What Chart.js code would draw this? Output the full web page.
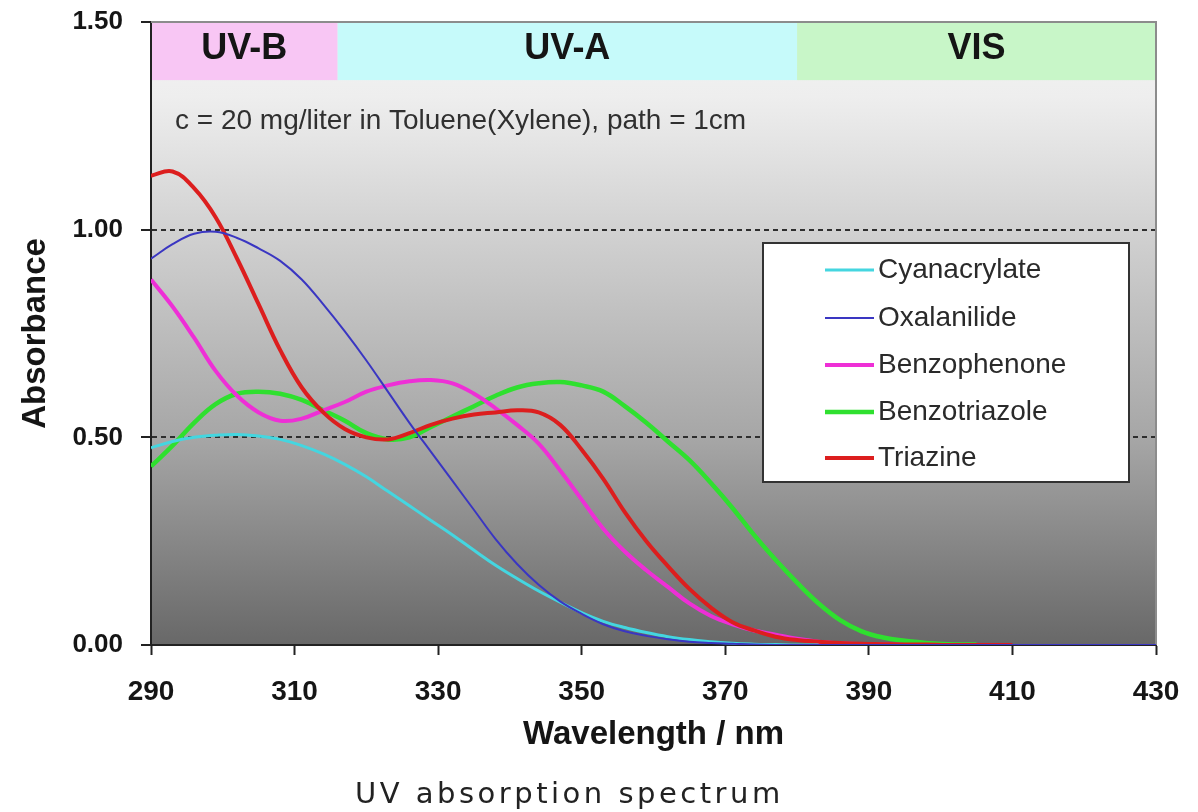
<!DOCTYPE html>
<html>
<head>
<meta charset="utf-8">
<title>UV absorption spectrum</title>
<script src="https://cdn.jsdelivr.net/npm/chart.js@4.4.0/dist/chart.umd.min.js"></script>
<style>
    html, body { margin: 0; padding: 0; background: #fff; }
    #wrap { position: relative; width: 1198px; height: 812px; }
</style>
</head>
<body>
<div id="wrap"><canvas id="uvChart"></canvas></div>
<script>
// Comprimentos de onda (nm) usados por todas as séries
const wavelengths = [290, 293, 296, 299, 302, 305, 308, 311, 314, 317, 320, 323, 326, 329, 332, 335, 338, 341, 344, 347,
    350, 353, 356, 359, 362, 365, 368, 371, 374, 377, 380, 383, 386, 389, 392, 395, 398, 401, 405, 410, 420, 430];

// Absorbância de cada filtro UV (null = série já terminou)
const cyanacrylate = [0.475, 0.49, 0.50, 0.505, 0.507, 0.503, 0.495, 0.48, 0.46, 0.435, 0.405, 0.37, 0.335, 0.30, 0.265, 0.228, 0.192, 0.16, 0.13, 0.103,
    0.078, 0.057, 0.042, 0.03, 0.02, 0.013, 0.008, 0.004, 0.002, 0.001, 0, 0, null, null, null, null, null, null, null, null, null, null];
const oxalanilide = [0.93, 0.965, 0.99, 0.995, 0.98, 0.955, 0.925, 0.88, 0.82, 0.755, 0.685, 0.61, 0.535, 0.465, 0.395, 0.325, 0.255, 0.195, 0.145, 0.105,
    0.075, 0.05, 0.033, 0.022, 0.014, 0.008, 0.005, 0.003, 0.001, 0, 0, 0, 0, 0, 0, 0, 0, 0, 0, 0, 0, 0];
const benzophenone = [0.88, 0.815, 0.74, 0.66, 0.60, 0.56, 0.54, 0.545, 0.565, 0.585, 0.61, 0.625, 0.635, 0.638, 0.63, 0.605, 0.57, 0.53, 0.485, 0.42,
    0.35, 0.28, 0.225, 0.18, 0.14, 0.10, 0.07, 0.05, 0.035, 0.025, 0.015, 0.008, 0.004, 0.002, 0.001, 0, null, null, null, null, null, null];
const benzotriazole = [0.43, 0.48, 0.535, 0.58, 0.605, 0.61, 0.605, 0.59, 0.565, 0.54, 0.51, 0.495, 0.50, 0.525, 0.55, 0.575, 0.60, 0.62, 0.63, 0.633,
    0.625, 0.61, 0.575, 0.535, 0.49, 0.445, 0.39, 0.33, 0.265, 0.205, 0.15, 0.10, 0.06, 0.033, 0.018, 0.01, 0.005, 0.002, 0.001, null, null, null];
const triazine = [1.13, 1.14, 1.10, 1.03, 0.93, 0.82, 0.71, 0.62, 0.56, 0.52, 0.50, 0.495, 0.51, 0.53, 0.545, 0.555, 0.56, 0.565, 0.56, 0.53,
    0.47, 0.40, 0.32, 0.25, 0.19, 0.135, 0.09, 0.055, 0.035, 0.02, 0.012, 0.008, 0.005, 0.003, 0.002, 0.001, 0.001, 0, 0, 0, null, null];

// Faixas do espectro no topo do gráfico
const bandNames = ['UV-B', 'UV-A', 'VIS'];
const bandEdges = [290, 316, 380, 430];
const bandColors = ['#f8c6f4', '#c6fafa', '#c8f6c8'];

// Marcas dos eixos
const xTicks = [290, 310, 330, 350, 370, 390, 410, 430];
const yTicks = [0, 0.5, 1.0, 1.5];

const FONT = 'Arial, "Liberation Sans", sans-serif';

/**
 * Converte uma lista de valores em pontos {x, y}, descartando os nulos.
 * @param {Array<number|null>} values Valores de absorbância.
 */
function toPoints(values) {
    return wavelengths
        .map((w, i) => ({ x: w, y: values[i] }))
        .filter(p => p.y !== null);
}

// Séries: cor e espessura de linha
const series = [
    { label: 'Cyanacrylate', data: cyanacrylate, color: '#44d6e0', width: 3, order: 1 },
    { label: 'Oxalanilide', data: oxalanilide, color: '#3a36c2', width: 2, order: 0 },
    { label: 'Benzophenone', data: benzophenone, color: '#ee2fd6', width: 4, order: 3 },
    { label: 'Benzotriazole', data: benzotriazole, color: '#2fe02f', width: 4.5, order: 4 },
    { label: 'Triazine', data: triazine, color: '#dc1e1e', width: 4, order: 2 }
];

// Plugin: fundo em degradê, faixas UV/VIS e texto de condição
const backgroundPlugin = {
    id: 'uvBackground',
    beforeDraw(chart) {
        const { ctx, chartArea: a, scales: { x, y } } = chart;
        ctx.save();
        const grad = ctx.createLinearGradient(0, a.top, 0, a.bottom);
        grad.addColorStop(0, '#f4f4f4');
        grad.addColorStop(0.12, '#eeeeee');
        grad.addColorStop(0.33, '#d2d2d2');
        grad.addColorStop(0.67, '#a6a6a6');
        grad.addColorStop(1, '#686868');
        ctx.fillStyle = grad;
        ctx.fillRect(a.left, a.top, a.right - a.left, a.bottom - a.top);

        // Faixas coloridas
        const bandTop = y.getPixelForValue(1.5);
        const bandBottom = y.getPixelForValue(1.36);
        bandNames.forEach((name, i) => {
            const x0 = x.getPixelForValue(bandEdges[i]);
            const x1 = x.getPixelForValue(bandEdges[i + 1]);
            ctx.fillStyle = bandColors[i];
            ctx.fillRect(x0, bandTop, x1 - x0, bandBottom - bandTop);
            ctx.fillStyle = '#151515';
            ctx.font = `bold 36px ${FONT}`;
            ctx.textAlign = 'center';
            ctx.textBaseline = 'middle';
            ctx.fillText(name, (x0 + x1) / 2, (bandTop + bandBottom) / 2 - 2);
        });

        // Condições da medição
        ctx.fillStyle = '#303030';
        ctx.font = `28px ${FONT}`;
        ctx.textAlign = 'left';
        ctx.textBaseline = 'middle';
        ctx.fillText('c = 20 mg/liter in Toluene(Xylene), path = 1cm', a.left + 24, y.getPixelForValue(1.26));
        ctx.restore();
    },
    beforeDatasetsDraw(chart) {
        // Borda cinza em cima e à direita da área do gráfico
        const { ctx, chartArea: a } = chart;
        ctx.save();
        ctx.strokeStyle = '#8c8c8c';
        ctx.lineWidth = 2;
        ctx.beginPath();
        ctx.moveTo(a.left, a.top);
        ctx.lineTo(a.right, a.top);
        ctx.lineTo(a.right, a.bottom);
        ctx.stroke();
        ctx.restore();
    }
};

// Plugin: legenda em caixa branca e legenda inferior
const legendPlugin = {
    id: 'uvLegend',
    afterDraw(chart) {
        const { ctx } = chart;
        ctx.save();
        const box = { left: 763, top: 243, right: 1129, bottom: 482 };
        ctx.fillStyle = '#ffffff';
        ctx.fillRect(box.left, box.top, box.right - box.left, box.bottom - box.top);
        ctx.strokeStyle = '#333';
        ctx.lineWidth = 2;
        ctx.strokeRect(box.left, box.top, box.right - box.left, box.bottom - box.top);

        const rowY = [270, 318, 365, 412, 458];
        series.forEach((s, i) => {
            ctx.strokeStyle = s.color;
            ctx.lineWidth = s.width;
            ctx.beginPath();
            ctx.moveTo(825, rowY[i]);
            ctx.lineTo(874, rowY[i]);
            ctx.stroke();
            ctx.fillStyle = '#2a2a2a';
            ctx.font = `28px ${FONT}`;
            ctx.textAlign = 'left';
            ctx.textBaseline = 'middle';
            ctx.fillText(s.label, 878, rowY[i]);
        });

        // Legenda da figura
        ctx.fillStyle = '#222';
        ctx.font = '29px "DejaVu Sans", sans-serif';
        ctx.letterSpacing = '3.5px';
        ctx.textAlign = 'left';
        ctx.textBaseline = 'alphabetic';
        ctx.fillText('UV absorption spectrum', 355, 803);
        ctx.restore();
    }
};

const ctx = document.getElementById('uvChart').getContext('2d');
new Chart(ctx, {
    type: 'line',
    data: {
        datasets: series.map(s => ({
            label: s.label,
            data: toPoints(s.data),
            borderColor: s.color,
            borderWidth: s.width,
            pointRadius: 0,
            fill: false,
            tension: 0.4,
            order: s.order
        }))
    },
    options: {
        responsive: true,
        maintainAspectRatio: false,
        animation: false,
        layout: { padding: { left: 0, right: 42, top: 22, bottom: 61 } },
        plugins: {
            legend: { display: false },
            tooltip: { enabled: false }
        },
        scales: {
            x: {
                type: 'linear',
                min: xTicks[0],
                max: xTicks[xTicks.length - 1],
                afterBuildTicks: scale => { scale.ticks = xTicks.map(v => ({ value: v })); },
                ticks: {
                    color: '#151515',
                    font: { family: FONT, size: 28, weight: 'bold' },
                    padding: 20,
                    maxRotation: 0,
                    autoSkip: false
                },
                grid: { drawOnChartArea: false, tickLength: 10, tickColor: '#222', tickWidth: 2 },
                border: { color: '#222', width: 2 },
                title: {
                    display: true,
                    text: 'Wavelength / nm',
                    color: '#151515',
                    font: { family: FONT, size: 33, weight: 'bold', lineHeight: 1 },
                    padding: { top: 0, bottom: 0 }
                },
                afterFit: scale => {
                    scale.height = 106;
                    scale.paddingLeft = 0;
                    scale.paddingRight = 0;
                }
            },
            y: {
                min: yTicks[0],
                max: yTicks[yTicks.length - 1],
                afterBuildTicks: scale => { scale.ticks = yTicks.map(v => ({ value: v })); },
                ticks: {
                    color: '#151515',
                    font: { family: FONT, size: 26, weight: 'bold' },
                    padding: 18,
                    callback: value => value.toFixed(2)
                },
                grid: {
                    color: c => (c.tick && (c.tick.value === 0.5 || c.tick.value === 1)) ? '#2e2e2e' : 'rgba(0,0,0,0)',
                    lineWidth: 2,
                    tickLength: 10,
                    tickColor: '#222',
                    tickWidth: 2
                },
                border: { color: '#222', width: 2, dash: [5, 4] },
                title: {
                    display: true,
                    text: 'Absorbance',
                    color: '#151515',
                    font: { family: FONT, size: 33, weight: 'bold', lineHeight: 1 },
                    padding: { top: 19, bottom: 0 }
                },
                afterFit: scale => {
                    scale.width = 151;
                    scale.paddingTop = 0;
                    scale.paddingBottom = 0;
                }
            }
        }
    },
    plugins: [backgroundPlugin, legendPlugin]
});
</script>
</body>
</html>
